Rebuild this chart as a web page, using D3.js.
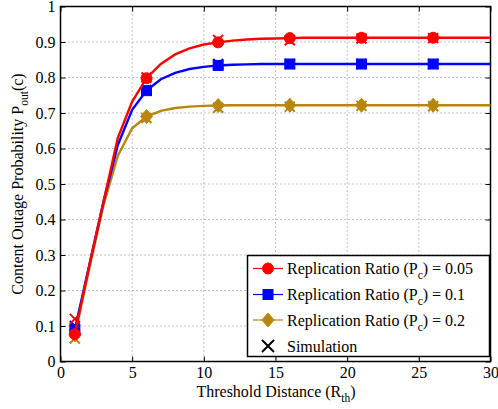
<!DOCTYPE html>
<html>
<head>
<meta charset="utf-8">
<script src="https://cdn.jsdelivr.net/npm/d3@7"></script>
<style>
  html, body { margin: 0; padding: 0; background: #fff; }
  svg { display: block; }
  text { font-family: "Liberation Serif", "Times New Roman", serif; fill: #000; }
</style>
</head>
<body>
<div id="chart"></div>
<script>
// ---------- data ----------
const xTicks = [0, 5, 10, 15, 20, 25, 30];
const yTicks = [0, 0.1, 0.2, 0.3, 0.4, 0.5, 0.6, 0.7, 0.8, 0.9, 1];
const yTickLabels = ["0", "0.1", "0.2", "0.3", "0.4", "0.5", "0.6", "0.7", "0.8", "0.9", "1"];

// analytical curve sample points (threshold distance)
const curveX = [1, 2, 3, 4, 5, 6, 7, 8, 9, 10, 11, 12, 13, 14, 15, 16, 17, 18, 19, 20, 21, 22, 23, 24, 25, 26, 27, 28, 29, 30];
const curvePc005 = [0.077, 0.27, 0.45, 0.63, 0.732, 0.798, 0.838, 0.865, 0.882, 0.893, 0.899, 0.904, 0.907, 0.909, 0.910, 0.911, 0.912, 0.912, 0.912, 0.912, 0.912, 0.912, 0.912, 0.912, 0.912, 0.912, 0.912, 0.912, 0.912, 0.912];
const curvePc01  = [0.090, 0.27, 0.45, 0.61, 0.709, 0.763, 0.795, 0.813, 0.824, 0.830, 0.834, 0.836, 0.837, 0.838, 0.838, 0.838, 0.838, 0.838, 0.838, 0.838, 0.838, 0.838, 0.838, 0.838, 0.838, 0.838, 0.838, 0.838, 0.838, 0.838];
const curvePc02  = [0.075, 0.26, 0.44, 0.58, 0.657, 0.690, 0.706, 0.714, 0.718, 0.720, 0.721, 0.722, 0.722, 0.722, 0.722, 0.722, 0.722, 0.722, 0.722, 0.722, 0.722, 0.722, 0.722, 0.722, 0.722, 0.722, 0.722, 0.722, 0.722, 0.722];

// marker positions
const markerX = [1, 6, 11, 16, 21, 26];
// simulation results
const simPc005 = [0.120, 0.800, 0.906, 0.905, 0.910, 0.911];
const simPc01  = [0.100, 0.765, 0.838, 0.838, 0.838, 0.838];
const simPc02  = [0.065, 0.686, 0.715, 0.718, 0.720, 0.719];

const seriesNames = ["Replication Ratio (P", "Replication Ratio (P", "Replication Ratio (P"];
const seriesValues = ["0.05", "0.1", "0.2"];
const colors = ["#ff0000", "#0000ff", "#b8860b"];
const shapes = ["circle", "square", "diamond"];

// ---------- layout ----------
const W = 498, H = 409;
const margin = { left: 60.5, right: 7.5, top: 6.5, bottom: 47.5 };
const iw = W - margin.left - margin.right;
const ih = H - margin.top - margin.bottom;

const svg = d3.select("#chart").append("svg").attr("width", W).attr("height", H);
const g = svg.append("g").attr("transform", `translate(${margin.left},${margin.top})`);

const x = d3.scaleLinear().domain([0, 30]).range([0, iw]);
const y = d3.scaleLinear().domain([0, 1]).range([ih, 0]);

// grid
const grid = g.append("g");
grid.selectAll(".gx").data(xTicks.slice(1, -1)).enter().append("line")
  .attr("x1", d => x(d)).attr("x2", d => x(d)).attr("y1", 0).attr("y2", ih)
  .attr("stroke", "#888").attr("stroke-width", 1).attr("stroke-dasharray", "1,3");
grid.selectAll(".gy").data(yTicks.slice(1, -1)).enter().append("line")
  .attr("y1", d => y(d)).attr("y2", d => y(d)).attr("x1", 0).attr("x2", iw)
  .attr("stroke", "#888").attr("stroke-width", 1).attr("stroke-dasharray", "1,3");

// axes
const fmtY = (d, i) => yTickLabels[i];
const axB = g.append("g").attr("transform", `translate(0,${ih})`)
  .call(d3.axisBottom(x).tickValues(xTicks).tickSize(-5).tickPadding(5).tickFormat(d3.format("d")));
const axL = g.append("g")
  .call(d3.axisLeft(y).tickValues(yTicks).tickSize(-5).tickPadding(5).tickFormat(fmtY));
const axT = g.append("g")
  .call(d3.axisTop(x).tickValues(xTicks).tickSize(-5).tickFormat(""));
const axR = g.append("g").attr("transform", `translate(${iw},0)`)
  .call(d3.axisRight(y).tickValues(yTicks).tickSize(-5).tickFormat(""));
[axB, axL, axT, axR].forEach(a => {
  a.select(".domain").remove();
  a.selectAll("line").attr("stroke", "#000").attr("stroke-width", 1);
  a.selectAll("text").style("font-family", "'Liberation Serif', serif").style("font-size", "16px").attr("fill", "#000");
});
axB.selectAll("text").attr("dy", "0.71em");
g.append("rect").attr("x", 0).attr("y", 0).attr("width", iw).attr("height", ih)
  .attr("fill", "none").attr("stroke", "#000").attr("stroke-width", 1.5);

// symbols
function drawMarker(sel, shape, color, cx, cy) {
  if (shape === "circle") {
    sel.append("circle").attr("cx", cx).attr("cy", cy).attr("r", 5.5).attr("fill", color).attr("stroke", color);
  } else if (shape === "square") {
    sel.append("rect").attr("x", cx - 5).attr("y", cy - 5).attr("width", 10).attr("height", 10).attr("fill", color).attr("stroke", color);
  } else {
    sel.append("path").attr("d", `M${cx},${cy - 7}L${cx + 6},${cy}L${cx},${cy + 7}L${cx - 6},${cy}Z`).attr("fill", color).attr("stroke", color);
  }
}
function drawX(sel, color, cx, cy, s) {
  sel.append("path").attr("d", `M${cx - s},${cy - s}L${cx + s},${cy + s}M${cx - s},${cy + s}L${cx + s},${cy - s}`)
    .attr("stroke", color).attr("stroke-width", 2).attr("fill", "none");
}

const curves = [curvePc005, curvePc01, curvePc02];
const sims = [simPc005, simPc01, simPc02];
const line = d3.line().x(d => x(d[0])).y(d => y(d[1]));
const plot = g.append("g");
// draw order: gold, blue, red (red on top)
[2, 1, 0].forEach(k => {
  const pts = curveX.map((cx, i) => [cx, curves[k][i]]);
  plot.append("path").attr("d", line(pts)).attr("fill", "none").attr("stroke", colors[k]).attr("stroke-width", 2.4);
  markerX.forEach((mx, i) => {
    const idx = curveX.indexOf(mx);
    drawMarker(plot, shapes[k], colors[k], x(mx), y(curves[k][idx]));
  });
  markerX.forEach((mx, i) => drawX(plot, colors[k], x(mx), y(sims[k][i]), 5));
});

// legend
const lg = svg.append("g");
const lx = 247.5, ly = 255.5, lw = 242, lh = 101;
lg.append("rect").attr("x", lx).attr("y", ly).attr("width", lw).attr("height", lh)
  .attr("fill", "#fff").attr("stroke", "#000").attr("stroke-width", 1.5);
const rowY = [268.5, 294.5, 320, 346];
[0, 1, 2].forEach(k => {
  const ry = rowY[k];
  lg.append("line").attr("x1", 253).attr("x2", 283).attr("y1", ry).attr("y2", ry).attr("stroke", colors[k]).attr("stroke-width", 1.2);
  drawMarker(lg, shapes[k], colors[k], 268, ry);
  const t = lg.append("text").attr("x", 287).attr("y", ry + 5.5).style("font-size", "16px");
  t.append("tspan").text(seriesNames[k]);
  t.append("tspan").attr("dy", 5).style("font-size", "11.5px").text("c");
  t.append("tspan").attr("dy", -5).text(") = " + seriesValues[k]);
});
drawX(lg, "#000", 268, rowY[3], 6);
lg.append("text").attr("x", 287).attr("y", rowY[3] + 5.5).style("font-size", "16px").text("Simulation");

// axis titles
const xt = svg.append("text").attr("x", margin.left + iw / 2 + 0.5).attr("y", 397).attr("text-anchor", "middle").style("font-size", "16px");
xt.append("tspan").text("Threshold Distance (R");
xt.append("tspan").attr("dy", 5).style("font-size", "11.5px").text("th");
xt.append("tspan").attr("dy", -5).text(")");

const yt = svg.append("text").attr("transform", `translate(23,${margin.top + ih / 2}) rotate(-90)`).attr("text-anchor", "middle").style("font-size", "16px");
yt.append("tspan").text("Content Outage Probability  P");
yt.append("tspan").attr("dy", 5).style("font-size", "11.5px").text("out");
yt.append("tspan").attr("dy", -5).text("(c)");
</script>
</body>
</html>
